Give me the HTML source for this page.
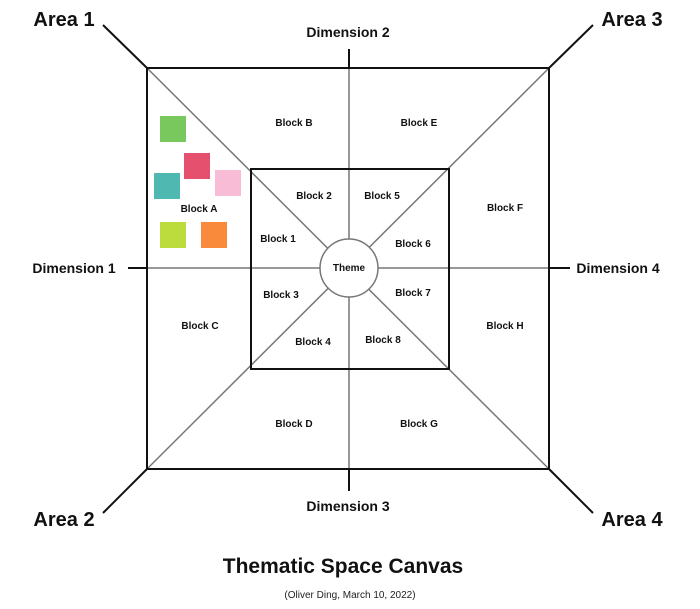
<!DOCTYPE html>
<html><head><style>
body{margin:0;background:#fff}
svg{display:block;font-family:"Liberation Sans",sans-serif}
</style></head><body>
<svg width="700" height="609" viewBox="0 0 700 609" xmlns="http://www.w3.org/2000/svg">
<g stroke="#777" stroke-width="1.5" fill="none">
<line x1="349" y1="68" x2="349" y2="469"/>
<line x1="147" y1="268" x2="549" y2="268"/>
<line x1="147" y1="68" x2="549" y2="469"/>
<line x1="549" y1="68" x2="147" y2="469"/>
</g>
<g stroke="#111" stroke-width="2" fill="none">
<rect x="147" y="68" width="402" height="401"/>
<rect x="251" y="169" width="198" height="200"/>
<line x1="349" y1="49" x2="349" y2="68"/>
<line x1="349" y1="469" x2="349" y2="491"/>
<line x1="128" y1="268" x2="147" y2="268"/>
<line x1="549" y1="268" x2="570" y2="268"/>
<line x1="103" y1="25" x2="147" y2="68"/>
<line x1="593" y1="25" x2="549" y2="68"/>
<line x1="103" y1="513" x2="147" y2="469"/>
<line x1="593" y1="513" x2="549" y2="469"/>
</g>
<circle cx="349" cy="268" r="29" fill="#fff" stroke="#777" stroke-width="1.5"/>
<g>
<rect x="160" y="116" width="26" height="26" fill="#78c85e"/>
<rect x="184" y="153" width="26" height="26" fill="#e4506e"/>
<rect x="154" y="173" width="26" height="26" fill="#4fb8b0"/>
<rect x="215" y="170" width="26" height="26" fill="#f9bcd6"/>
<rect x="160" y="222" width="26" height="26" fill="#bcdb3c"/>
<rect x="201" y="222" width="26" height="26" fill="#f98a3c"/>
</g>
<g font-weight="bold" fill="#111" text-anchor="middle">
<text x="64" y="26" font-size="20">Area 1</text>
<text x="632" y="26" font-size="20">Area 3</text>
<text x="64" y="526" font-size="20">Area 2</text>
<text x="632" y="526" font-size="20">Area 4</text>
<text x="348" y="37" font-size="14">Dimension 2</text>
<text x="348" y="511" font-size="14">Dimension 3</text>
<text x="74" y="273" font-size="14">Dimension 1</text>
<text x="618" y="273" font-size="14">Dimension 4</text>
<g font-size="10">
<text x="294" y="126">Block B</text>
<text x="419" y="126">Block E</text>
<text x="199" y="212">Block A</text>
<text x="505" y="211">Block F</text>
<text x="200" y="329">Block C</text>
<text x="505" y="329">Block H</text>
<text x="294" y="427">Block D</text>
<text x="419" y="427">Block G</text>
<text x="314" y="199">Block 2</text>
<text x="382" y="199">Block 5</text>
<text x="278" y="242">Block 1</text>
<text x="413" y="247">Block 6</text>
<text x="281" y="298">Block 3</text>
<text x="413" y="296">Block 7</text>
<text x="313" y="345">Block 4</text>
<text x="383" y="343">Block 8</text>
<text x="349" y="271">Theme</text>
</g>
<text x="343" y="573" font-size="21">Thematic Space Canvas</text>
</g>
<text x="350" y="598" font-size="10" text-anchor="middle" fill="#222">(Oliver Ding, March 10, 2022)</text>
</svg>
</body></html>
